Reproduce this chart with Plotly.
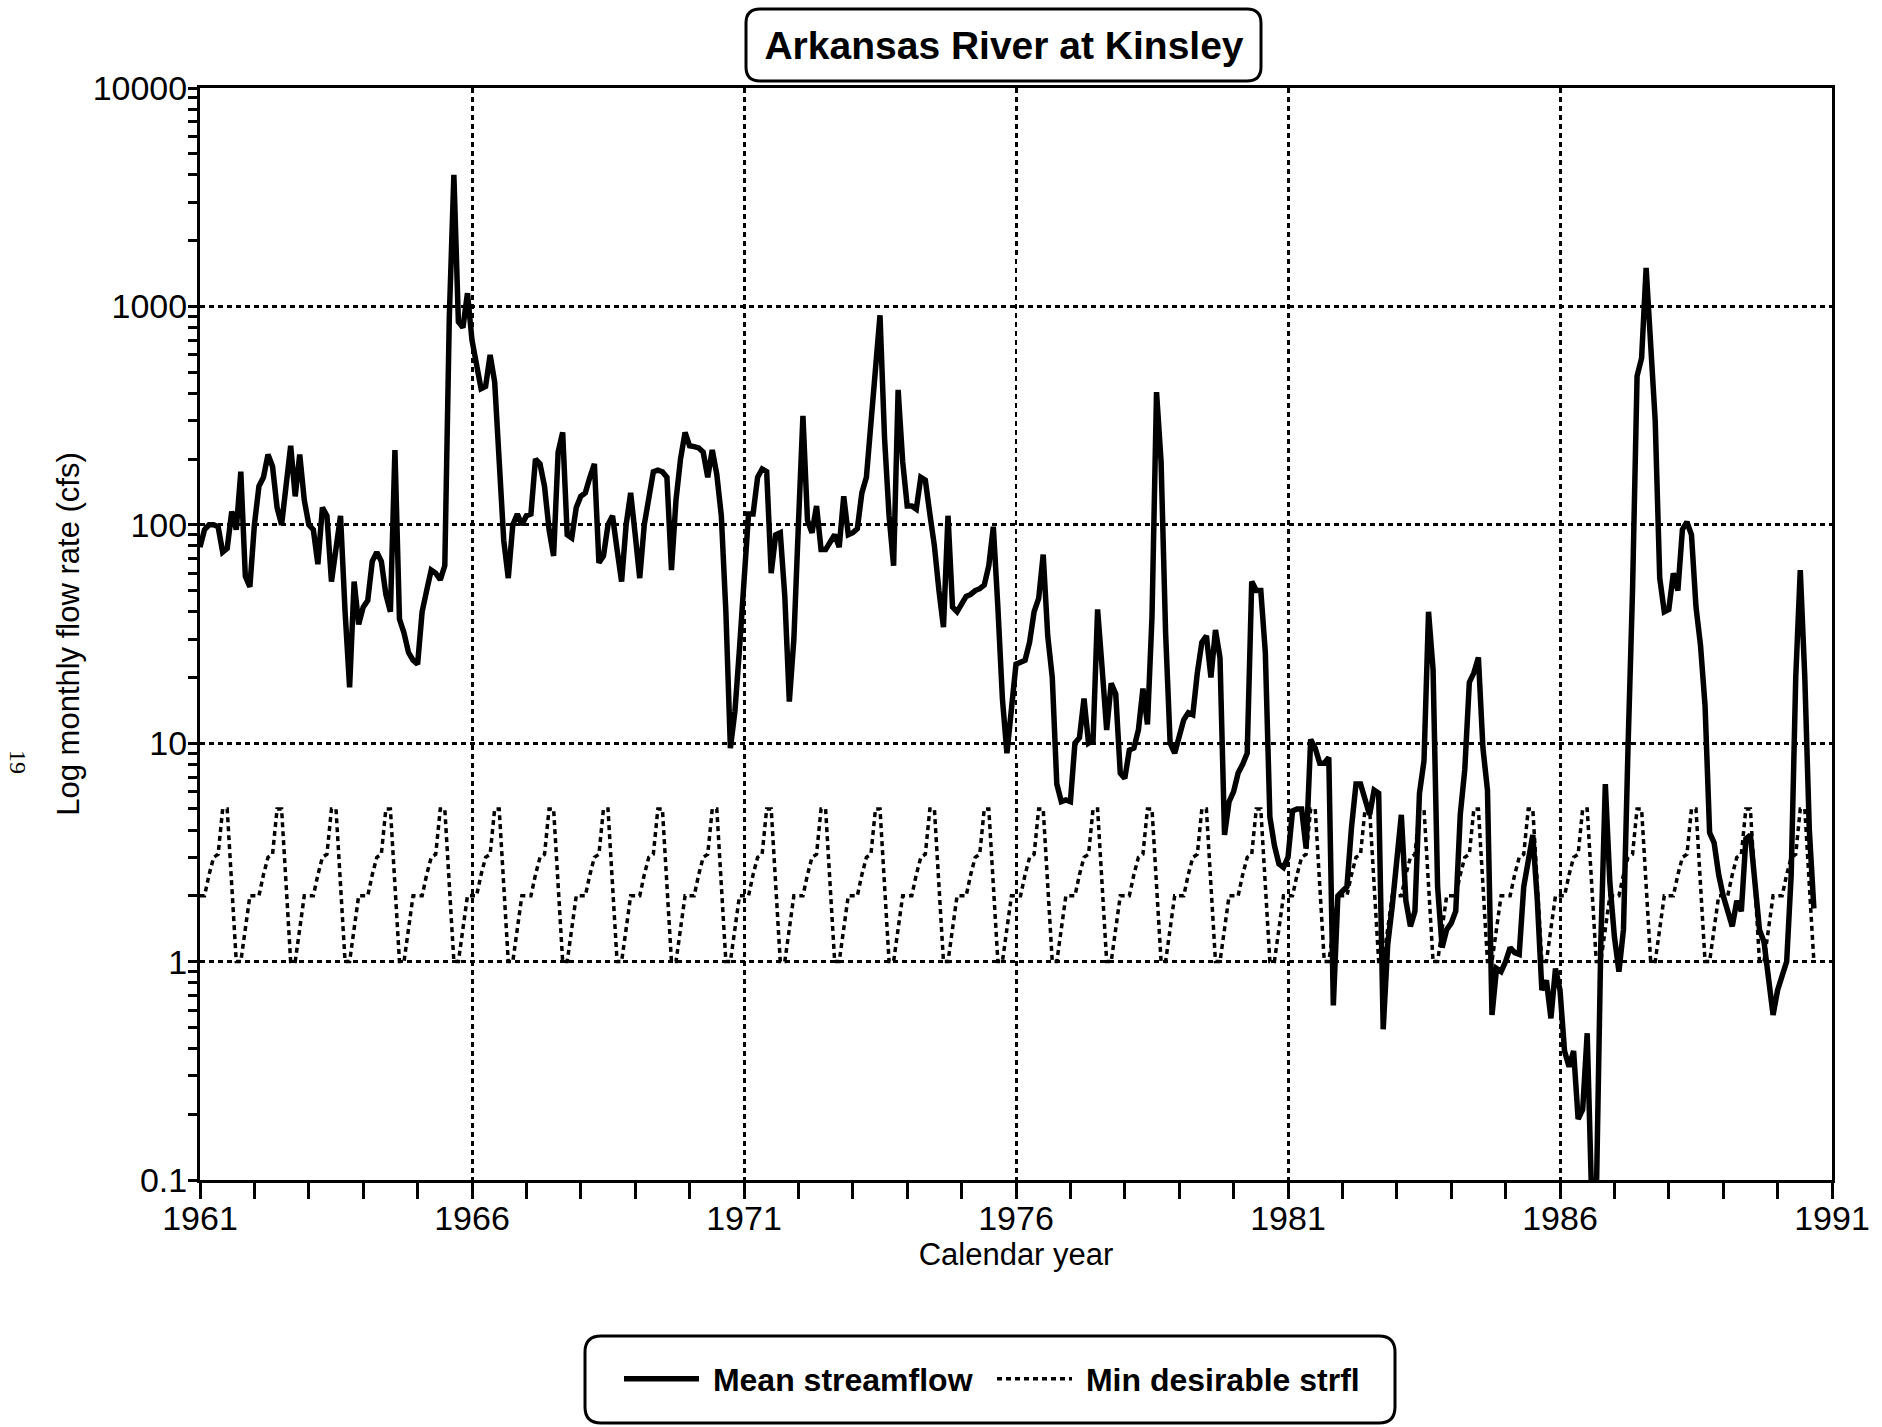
import plotly.graph_objects as go

# ---------------- data ----------------
START_YEAR = 1961  # first monthly value plotted at 1961.0

# Mean monthly streamflow (cfs), one value per month, in consecutive 60-month runs
flow_run_1 = [79, 95, 100, 100, 98, 75, 78, 115, 95, 175,
              58, 52, 100, 150, 165, 210, 185, 120, 100, 160,
              230, 135, 210, 130, 100, 95, 66, 120, 110, 55,
              80, 110, 40, 18, 55, 35, 42, 45, 68, 75,
              68, 48, 40, 220, 37, 32, 26, 24, 23, 40,
              50, 62, 60, 56, 65, 900, 4000, 850, 800, 1150]
flow_run_2 = [700, 550, 420, 430, 600, 450, 200, 85, 57, 100,
              112, 100, 110, 112, 200, 190, 150, 95, 72, 215,
              265, 90, 87, 120, 135, 140, 165, 190, 67, 72,
              100, 110, 77, 55, 100, 140, 90, 57, 100, 130,
              175, 178, 175, 165, 62, 130, 200, 265, 230, 228,
              225, 215, 165, 220, 170, 110, 40, 9.5, 14, 27]
flow_run_3 = [62, 112, 112, 165, 180, 175, 60, 90, 92, 47,
              15.5, 30, 100, 315, 105, 92, 122, 77, 77, 83,
              90, 79, 135, 90, 92, 96, 140, 165, 300, 520,
              910, 250, 110, 65, 415, 195, 122, 122, 118, 165,
              160, 112, 80, 50, 34, 110, 42, 40, 43, 47,
              48, 50, 51, 53, 65, 98, 42, 16, 9, 14]
flow_run_4 = [23, 23.5, 24, 29, 40, 46, 73, 31, 20, 6.5,
              5.4, 5.5, 5.4, 10, 10.6, 16, 10, 10.3, 41, 22,
              11.5, 18.8, 16.8, 7.3, 6.9, 9.3, 9.5, 11.5, 17.8, 12.2,
              38, 405, 195, 32, 10, 9, 10.6, 12.8, 13.8, 13.5,
              21, 29, 31, 20, 33, 24.6, 3.8, 5.4, 6.0, 7.3,
              8.0, 9.0, 55, 50, 50, 26, 4.6, 3.4, 2.8, 2.7]
flow_run_5 = [3.0, 4.9, 5.0, 5.0, 3.3, 10.4, 9.5, 8.1, 8.1, 8.6,
              0.63, 2.0, 2.1, 2.2, 4.1, 6.5, 6.5, 5.5, 4.7, 6.1,
              5.9, 0.49, 1.2, 1.8, 3.0, 4.7, 1.9, 1.45, 1.7, 5.9,
              8.3, 40, 21.7, 2.2, 1.16, 1.4, 1.5, 1.7, 4.7, 7.6,
              19, 21, 24.7, 9.5, 6.1, 0.57, 0.93, 0.9, 1.0, 1.16,
              1.1, 1.08, 2.2, 3.0, 3.8, 1.9, 0.74, 0.82, 0.55, 0.93]
flow_run_6 = [0.74, 0.39, 0.33, 0.39, 0.19, 0.21, 0.47, 0.08, 0.08, 1.2,
              6.5, 2.3, 1.3, 0.9, 1.4, 9.5, 50, 480, 580, 1500,
              700, 300, 57, 40, 41, 60, 50, 95, 103, 90,
              42, 28, 14.8, 3.9, 3.5, 2.5, 2.0, 1.7, 1.45, 1.9,
              1.7, 3.65, 3.8, 2.3, 1.4, 1.23, 0.8, 0.57, 0.74, 0.87,
              1.0, 2.5, 20, 62, 20, 4.0, 1.75]

# Minimum desirable streamflow schedule (cfs), Jan..Dec, same every year
min_desirable_schedule = [2, 2, 2.5, 3, 3.1, 5, 5, 2.2, 1, 1, 1.4, 2]

x_tick_years = [1961, 1966, 1971, 1976, 1981, 1986, 1991]
x_tick_labels = ["1961", "1966", "1971", "1976", "1981", "1986", "1991"]
y_tick_values = [0.1, 1, 10, 100, 1000, 10000]
y_tick_labels = ["0.1", "1", "10", "100", "1000", "10000"]

# ---------------- assemble series ----------------
mean_streamflow = (flow_run_1 + flow_run_2 + flow_run_3 +
                   flow_run_4 + flow_run_5 + flow_run_6)
month_index = list(range(len(mean_streamflow)))
x_time = [START_YEAR + m / 12 for m in month_index]
min_desirable = [min_desirable_schedule[m % 12] for m in month_index]

# ---------------- layout geometry ----------------
W, H = 1882, 1427
L, R, T, B = 200, 50, 88, 247
PW, PH = W - L - R, H - T - B

def px_x(x):
    return (x - L) / PW

def px_y(y):
    return (H - B - y) / PH

def rounded_box(x0, y0, x1, y1, r):
    p = lambda x, y: f"{px_x(x):.5f},{px_y(y):.5f}"
    return (f"M {p(x0 + r, y0)} L {p(x1 - r, y0)} Q {p(x1, y0)} {p(x1, y0 + r)} "
            f"L {p(x1, y1 - r)} Q {p(x1, y1)} {p(x1 - r, y1)} "
            f"L {p(x0 + r, y1)} Q {p(x0, y1)} {p(x0, y1 - r)} "
            f"L {p(x0, y0 + r)} Q {p(x0, y0)} {p(x0 + r, y0)} Z")

SANS = "Liberation Sans, Arial, sans-serif"

fig = go.Figure()
fig.add_trace(go.Scatter(
    x=x_time, y=mean_streamflow, mode="lines", name="&nbsp;Mean streamflow",
    line=dict(color="black", width=5.5)))
fig.add_trace(go.Scatter(
    x=x_time, y=min_desirable, mode="lines", name="&nbsp;Min desirable strfl",
    line=dict(color="black", width=3.5, dash="5px,4px")))

minor_y = [m * 10 ** e for e in range(-1, 4) for m in range(2, 10)]
minor_x = [yr for yr in range(1961, 1992) if yr not in x_tick_years]

fig.update_layout(
    width=W, height=H,
    margin=dict(l=L, r=R, t=T, b=B, autoexpand=False),
    paper_bgcolor="white", plot_bgcolor="white",
    title=dict(text="Arkansas River at Kinsley",
               font=dict(family=SANS, size=39, color="black", weight="bold"),
               x=px_x(1004), xref="paper", xanchor="center",
               y=1 - 45 / H, yref="container", yanchor="middle"),
    xaxis=dict(
        range=[1961, 1991], tickvals=x_tick_years, ticktext=x_tick_labels,
        ticks="outside", ticklen=16, tickwidth=3, tickcolor="black",
        ticklabelstandoff=-10,
        showline=True, linewidth=3, linecolor="black", mirror=True,
        showgrid=True, gridcolor="black", gridwidth=3, griddash="5px,4px",
        zeroline=False,
        tickfont=dict(family=SANS, size=34, color="black"),
        minor=dict(tickvals=minor_x, ticks="outside", ticklen=16, tickwidth=3,
                   tickcolor="black", showgrid=False),
        title=dict(text="Calendar year", standoff=6,
                   font=dict(family=SANS, size=31, color="black")),
    ),
    yaxis=dict(
        type="log", range=[-1, 4], tickvals=y_tick_values, ticktext=y_tick_labels,
        ticks="outside", ticklen=9, tickwidth=3, tickcolor="black",
        ticklabelstandoff=-6,
        showline=True, linewidth=3, linecolor="black", mirror=True,
        showgrid=True, gridcolor="black", gridwidth=3, griddash="5px,4px",
        zeroline=False,
        tickfont=dict(family=SANS, size=34, color="black"),
        minor=dict(tickvals=minor_y, ticks="outside", ticklen=9, tickwidth=2.5,
                   tickcolor="black", showgrid=False),
        title=dict(text="Log monthly flow rate (cfs)", standoff=4,
                   font=dict(family=SANS, size=31, color="black")),
    ),
    legend=dict(orientation="h", x=px_x(992), xanchor="center",
                y=px_y(1379), yanchor="middle",
                font=dict(family=SANS, size=32, color="black", weight="bold"),
                bgcolor="rgba(0,0,0,0)", borderwidth=0, itemwidth=75,
                entrywidth=283, entrywidthmode="pixels"),
    showlegend=True,
    shapes=[
        dict(type="path", xref="paper", yref="paper",
             path=rounded_box(746, 9, 1261, 81, 14),
             line=dict(color="black", width=3), fillcolor="rgba(0,0,0,0)",
             layer="above"),
        dict(type="path", xref="paper", yref="paper",
             path=rounded_box(585, 1336, 1395, 1423, 16),
             line=dict(color="black", width=3), fillcolor="rgba(0,0,0,0)",
             layer="above"),
    ],
    annotations=[
        dict(text="19", xref="paper", yref="paper", x=px_x(18), y=px_y(762),
             xanchor="center", yanchor="middle",
             showarrow=False, textangle=90,
             font=dict(family="Liberation Serif, serif", size=24, color="black")),
    ],
)

fig.write_html("out.html")
